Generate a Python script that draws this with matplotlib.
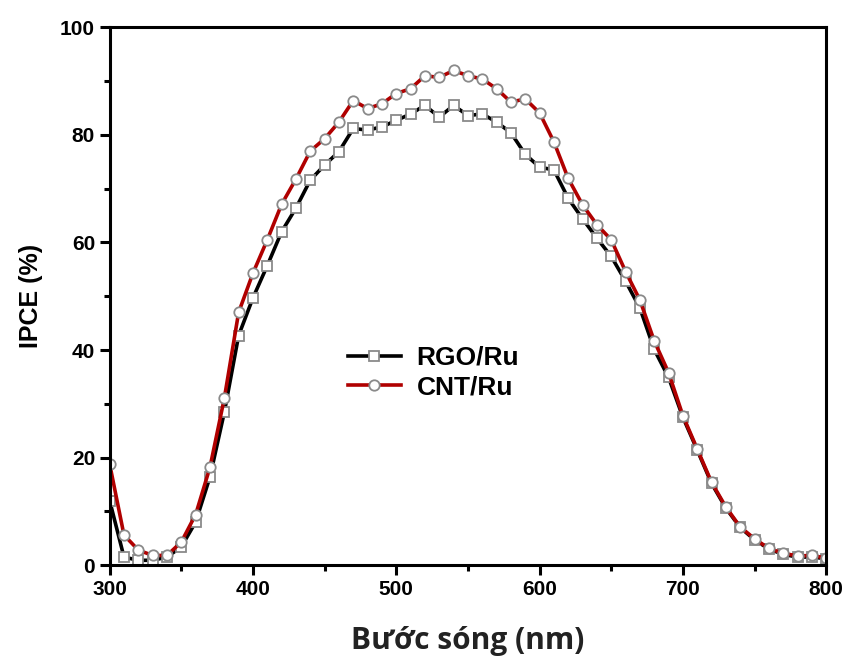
import numpy as np
import matplotlib
matplotlib.use("Agg")
import matplotlib.pyplot as plt
from matplotlib.ticker import MultipleLocator

# Wavelength grid (nm) and IPCE values (%)
wavelength = list(range(300, 801, 10))

rgo_ru = [12.0, 1.5, 0.9, 0.9, 1.5, 3.4, 8.0, 16.4, 28.4, 42.7,
          49.7, 55.7, 62.0, 66.4, 71.6, 74.4, 76.9, 81.2, 80.9, 81.5,
          82.7, 83.9, 85.5, 83.3, 85.5, 83.6, 83.9, 82.4, 80.4, 76.4,
          74.0, 73.5, 68.2, 64.4, 60.8, 57.4, 52.8, 47.8, 40.1, 34.9,
          27.5, 21.4, 15.2, 10.6, 7.0, 4.7, 3.0, 2.0, 1.5, 1.5,
          1.2]

cnt_ru = [18.8, 5.6, 2.8, 1.8, 1.8, 4.3, 9.4, 18.2, 31.0, 47.0,
          54.3, 60.5, 67.1, 71.8, 77.0, 79.3, 82.4, 86.4, 84.9, 85.8,
          87.7, 88.6, 91.0, 90.7, 92.0, 91.0, 90.4, 88.6, 86.1, 86.7,
          84.1, 78.7, 71.9, 67.0, 63.3, 60.5, 54.6, 49.3, 41.7, 35.8,
          27.8, 21.6, 15.4, 10.8, 7.1, 4.9, 3.1, 2.2, 1.7, 1.8,
          1.3]

fig = plt.figure(figsize=(8.5, 6.68), dpi=100)
ax = fig.add_axes([0.129, 0.154, 0.843, 0.805])

mk = dict(markerfacecolor="white", markeredgecolor="#8a8a8a",
          markeredgewidth=1.3, linewidth=2.6)
ax.plot(wavelength, rgo_ru, "-s", color="black", label="RGO/Ru",
        markersize=6.5, **mk)
ax.plot(wavelength, cnt_ru, "-o", color="#b00000", label="CNT/Ru",
        markersize=7.5, **mk)

ax.set_xlim(300, 800)
ax.set_ylim(0, 100)
ax.xaxis.set_major_locator(MultipleLocator(100))
ax.xaxis.set_minor_locator(MultipleLocator(50))
ax.yaxis.set_major_locator(MultipleLocator(20))
ax.yaxis.set_minor_locator(MultipleLocator(10))

for s in ax.spines.values():
    s.set_linewidth(2.2)
ax.tick_params(which="major", direction="out", length=7, width=2.2,
               labelsize=15)
ax.tick_params(which="minor", direction="out", length=4, width=2.2)
for lab in ax.get_xticklabels() + ax.get_yticklabels():
    lab.set_fontfamily("Liberation Sans")
    lab.set_fontweight("bold")

ax.set_ylabel("IPCE (%)", fontsize=18, fontweight="bold",
              family="Liberation Sans", labelpad=12)
ax.set_xlabel("Bước sóng (nm)", fontsize=21.5, fontweight="bold",
              family="Open Sans", labelpad=20, color="#222222")

leg = ax.legend(loc="center", bbox_to_anchor=(0.452, 0.358), frameon=False,
                prop={"family": "Liberation Sans", "weight": "bold", "size": 19},
                handlelength=2.0, handletextpad=0.6, labelspacing=0.2)

fig.savefig("out.png", dpi=100)
